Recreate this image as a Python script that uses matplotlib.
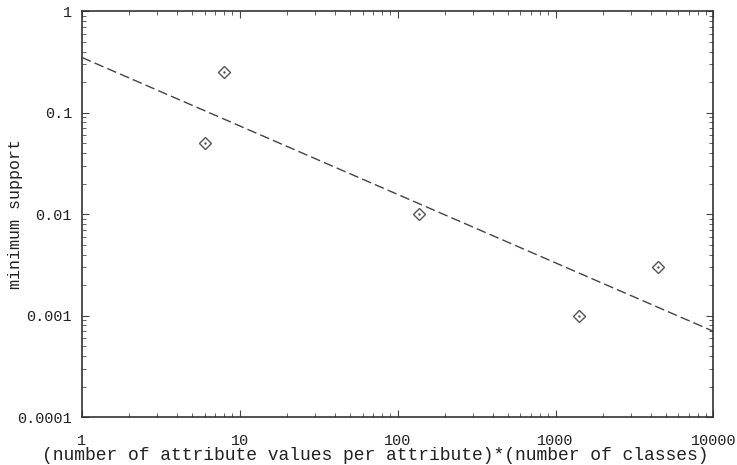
import matplotlib
matplotlib.use('Agg')
import matplotlib.pyplot as plt
from matplotlib.ticker import LogLocator, FixedLocator, FixedFormatter

plt.rcParams['font.family'] = ['Liberation Mono', 'DejaVu Sans Mono']

# data points
x_vals = [6, 8, 137, 1410, 4450]
y_vals = [0.05, 0.25, 0.01, 0.001, 0.003]

# dashed trend line endpoints
fit_x = [1, 10000]
fit_y = [0.35, 0.0007]

x_ticks = [1, 10, 100, 1000, 10000]
x_labels = ['1', '10', '100', '1000', '10000']
y_ticks = [0.0001, 0.001, 0.01, 0.1, 1]
y_labels = ['0.0001', '0.001', '0.01', '0.1', '1']

fig = plt.figure(figsize=(7.37, 4.65), dpi=100)
ax = fig.add_axes([0.111, 0.103, 0.857, 0.873])

ax.plot(fit_x, fit_y, color='#444444', linestyle=(0, (7, 3)), linewidth=1.0)
ax.plot(x_vals, y_vals, linestyle='none', marker='D', markersize=6.5,
        markerfacecolor='white', markeredgecolor='#555555', markeredgewidth=1.0)
ax.plot(x_vals, y_vals, linestyle='none', marker='.', markersize=1.5, color='#555555')

ax.set_xscale('log')
ax.set_yscale('log')
ax.set_xlim(1, 10000)
ax.set_ylim(0.0001, 1)

ax.xaxis.set_major_locator(FixedLocator(x_ticks))
ax.xaxis.set_major_formatter(FixedFormatter(x_labels))
ax.yaxis.set_major_locator(FixedLocator(y_ticks))
ax.yaxis.set_major_formatter(FixedFormatter(y_labels))
ax.xaxis.set_minor_locator(LogLocator(base=10, subs=range(2, 10), numticks=20))
ax.yaxis.set_minor_locator(LogLocator(base=10, subs=range(2, 10), numticks=20))
ax.xaxis.set_minor_formatter(plt.NullFormatter())
ax.yaxis.set_minor_formatter(plt.NullFormatter())

ax.tick_params(which='both', direction='in', top=True, right=True, color='#444444',
               labelcolor='#222222')
ax.tick_params(which='major', length=5, labelsize=11)
ax.tick_params(axis='x', which='major', pad=12)
ax.tick_params(axis='y', which='major', pad=7)
ax.tick_params(which='minor', length=3)
for s in ax.spines.values():
    s.set_color('#333333')
    s.set_linewidth(1.2)

fig.text(0.509, 0.02, '(number of attribute values per attribute)*(number of classes)',
         fontsize=13, ha='center', va='center', color='#222222')
fig.text(0.021, 0.54, 'minimum support', fontsize=12, rotation=90,
         ha='center', va='center', color='#222222')

plt.savefig('out.png', dpi=100)
